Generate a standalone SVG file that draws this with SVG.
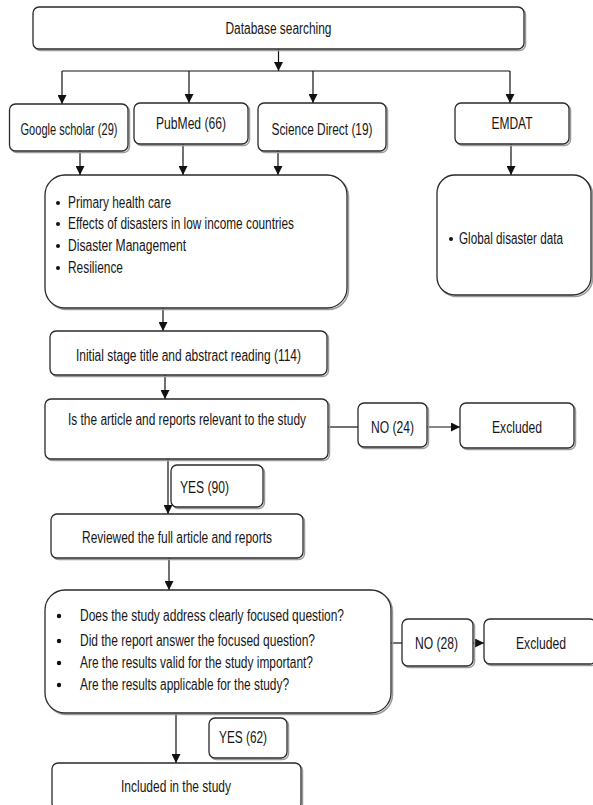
<svg xmlns="http://www.w3.org/2000/svg" width="593" height="805" viewBox="0 0 593 805">
<defs>
<marker id="ah" viewBox="0 0 10 10" refX="10" refY="5" markerWidth="9" markerHeight="9" markerUnits="userSpaceOnUse" orient="auto">
<path d="M0,0 L10,5 L0,10 z" fill="#111"/>
</marker>
</defs>
<style>
.box{fill:#fff;stroke:#2a2a2a;stroke-width:1.3}
.sh{fill:none;stroke:#9a9a9a;stroke-width:1.5}
.t{font-family:"Liberation Sans Narrow","Arial Narrow","Liberation Sans",Arial,sans-serif;font-size:16px;fill:#161616}
.c{text-anchor:middle}
.ln{fill:none;stroke:#111;stroke-width:1.2}
.ar{marker-end:url(#ah)}
.dot{fill:#111}
</style>
<rect width="593" height="805" fill="#fff"/>

<g id="connectors">
<path class="ln ar" d="M278.5,49 V71"/>
<path class="ln" d="M62,71 H510"/>
<path class="ln ar" d="M62,71 V104"/>
<path class="ln ar" d="M189,71 V103"/>
<path class="ln ar" d="M313,71 V103"/>
<path class="ln ar" d="M510,71 V103"/>
<path class="ln ar" d="M80,151 V175"/>
<path class="ln ar" d="M183,144 V175"/>
<path class="ln ar" d="M278,151 V175"/>
<path class="ln ar" d="M511,144 V175"/>
<path class="ln ar" d="M163,308 V331"/>
<path class="ln ar" d="M165,375 V399"/>
<path class="ln ar" d="M168,459 V514"/>
<path class="ln ar" d="M169,558 V590"/>
<path class="ln ar" d="M176,713 V763"/>
<path class="ln" d="M328,427 H358"/>
<path class="ln ar" d="M427,427 H460"/>
<path class="ln" d="M391,643 H402"/>
<path class="ln ar" d="M473,643 H484"/>
</g>

<g id="database">
<rect class="sh" x="34.5" y="8.5" width="491" height="42" rx="6"/>
<rect class="box" x="33" y="7" width="491" height="42" rx="6"/>
<text class="t c" x="278.5" y="34" textLength="106" lengthAdjust="spacingAndGlyphs">Database searching</text>
</g>

<g id="google">
<rect class="sh" x="11" y="105.5" width="118.5" height="47" rx="6"/>
<rect class="box" x="9.5" y="104" width="118.5" height="47" rx="6"/>
<text class="t c" x="69" y="135" textLength="97" lengthAdjust="spacingAndGlyphs">Google scholar (29)</text>
</g>

<g id="pubmed">
<rect class="sh" x="135.5" y="104.5" width="114" height="41" rx="6"/>
<rect class="box" x="134" y="103" width="114" height="41" rx="6"/>
<text class="t c" x="191" y="129" textLength="70" lengthAdjust="spacingAndGlyphs">PubMed (66)</text>
</g>

<g id="sciencedirect">
<rect class="sh" x="259.5" y="104.5" width="128" height="48" rx="6"/>
<rect class="box" x="258" y="103" width="128" height="48" rx="6"/>
<text class="t c" x="322" y="135" textLength="101" lengthAdjust="spacingAndGlyphs">Science Direct (19)</text>
</g>

<g id="emdat">
<rect class="sh" x="456.5" y="104.5" width="114" height="41" rx="6"/>
<rect class="box" x="455" y="103" width="114" height="41" rx="6"/>
<text class="t c" x="512" y="129" textLength="41" lengthAdjust="spacingAndGlyphs">EMDAT</text>
</g>

<g id="topics">
<rect class="sh" x="46.5" y="176.5" width="302" height="133" rx="20"/>
<rect class="box" x="45" y="175" width="302" height="133" rx="20"/>
<circle class="dot" cx="58" cy="203" r="2"/>
<text class="t" x="68" y="208" textLength="103" lengthAdjust="spacingAndGlyphs">Primary health care</text>
<circle class="dot" cx="58" cy="224" r="2"/>
<text class="t" x="68" y="229" textLength="226" lengthAdjust="spacingAndGlyphs">Effects of disasters in low income countries</text>
<circle class="dot" cx="58" cy="246" r="2"/>
<text class="t" x="68" y="251" textLength="118" lengthAdjust="spacingAndGlyphs">Disaster Management</text>
<circle class="dot" cx="58" cy="268" r="2"/>
<text class="t" x="68" y="273" textLength="55" lengthAdjust="spacingAndGlyphs">Resilience</text>
</g>

<g id="global">
<rect class="sh" x="438.5" y="176.5" width="154" height="120" rx="18"/>
<rect class="box" x="437" y="175" width="154" height="120" rx="18"/>
<circle class="dot" cx="451" cy="239" r="2"/>
<text class="t" x="459" y="244" textLength="104" lengthAdjust="spacingAndGlyphs">Global disaster data</text>
</g>

<g id="initial">
<rect class="sh" x="51.5" y="332.5" width="277" height="44" rx="6"/>
<rect class="box" x="50" y="331" width="277" height="44" rx="6"/>
<text class="t c" x="188.5" y="361" textLength="225" lengthAdjust="spacingAndGlyphs">Initial stage title and abstract reading (114)</text>
</g>

<g id="relevant">
<rect class="sh" x="46.5" y="400.5" width="283" height="60" rx="6"/>
<rect class="box" x="45" y="399" width="283" height="60" rx="6"/>
<text class="t c" x="187" y="425" textLength="238" lengthAdjust="spacingAndGlyphs">Is the article and reports relevant to the study</text>
</g>

<g id="no24">
<rect class="sh" x="359.5" y="404.5" width="69" height="44" rx="6"/>
<rect class="box" x="358" y="403" width="69" height="44" rx="6"/>
<text class="t c" x="392.5" y="433" textLength="43" lengthAdjust="spacingAndGlyphs">NO (24)</text>
</g>

<g id="excluded1">
<rect class="sh" x="461.5" y="404.5" width="114" height="45" rx="6"/>
<rect class="box" x="460" y="403" width="114" height="45" rx="6"/>
<text class="t c" x="517" y="433" textLength="50" lengthAdjust="spacingAndGlyphs">Excluded</text>
</g>

<g id="yes90">
<rect class="sh" x="172.5" y="466.5" width="92" height="42" rx="6"/>
<rect class="box" x="171" y="465" width="92" height="42" rx="6"/>
<text class="t" x="180" y="493" textLength="49" lengthAdjust="spacingAndGlyphs">YES (90)</text>
</g>

<g id="reviewed">
<rect class="sh" x="52.5" y="515.5" width="252" height="44" rx="6"/>
<rect class="box" x="51" y="514" width="252" height="44" rx="6"/>
<text class="t c" x="177" y="543" textLength="190" lengthAdjust="spacingAndGlyphs">Reviewed the full article and reports</text>
</g>

<g id="questions">
<rect class="sh" x="46.5" y="591.5" width="346" height="123" rx="20"/>
<rect class="box" x="45" y="590" width="346" height="123" rx="20"/>
<circle class="dot" cx="59" cy="616" r="2.2"/>
<text class="t" x="80" y="621" textLength="264" lengthAdjust="spacingAndGlyphs">Does the study address clearly focused question?</text>
<circle class="dot" cx="59" cy="641" r="2.2"/>
<text class="t" x="80" y="646" textLength="235" lengthAdjust="spacingAndGlyphs">Did the report answer the focused question?</text>
<circle class="dot" cx="59" cy="663" r="2.2"/>
<text class="t" x="80" y="668" textLength="233" lengthAdjust="spacingAndGlyphs">Are the results valid for the study important?</text>
<circle class="dot" cx="59" cy="685" r="2.2"/>
<text class="t" x="80" y="690" textLength="209" lengthAdjust="spacingAndGlyphs">Are the results applicable for the study?</text>
</g>

<g id="no28">
<rect class="sh" x="403.5" y="620.5" width="71" height="47" rx="6"/>
<rect class="box" x="402" y="619" width="71" height="47" rx="6"/>
<text class="t c" x="436.5" y="649" textLength="43" lengthAdjust="spacingAndGlyphs">NO (28)</text>
</g>

<g id="excluded2">
<rect class="sh" x="485.5" y="620.5" width="112" height="45" rx="6"/>
<rect class="box" x="484" y="619" width="112" height="45" rx="6"/>
<text class="t c" x="541" y="649" textLength="50" lengthAdjust="spacingAndGlyphs">Excluded</text>
</g>

<g id="yes62">
<rect class="sh" x="210.5" y="719.5" width="78" height="40" rx="6"/>
<rect class="box" x="209" y="718" width="78" height="40" rx="6"/>
<text class="t" x="219" y="743" textLength="48" lengthAdjust="spacingAndGlyphs">YES (62)</text>
</g>

<g id="included">
<rect class="sh" x="53.5" y="764.5" width="249" height="46" rx="6"/>
<rect class="box" x="52" y="763" width="249" height="46" rx="6"/>
<text class="t c" x="176" y="792" textLength="110" lengthAdjust="spacingAndGlyphs">Included in the study</text>
</g>
</svg>
